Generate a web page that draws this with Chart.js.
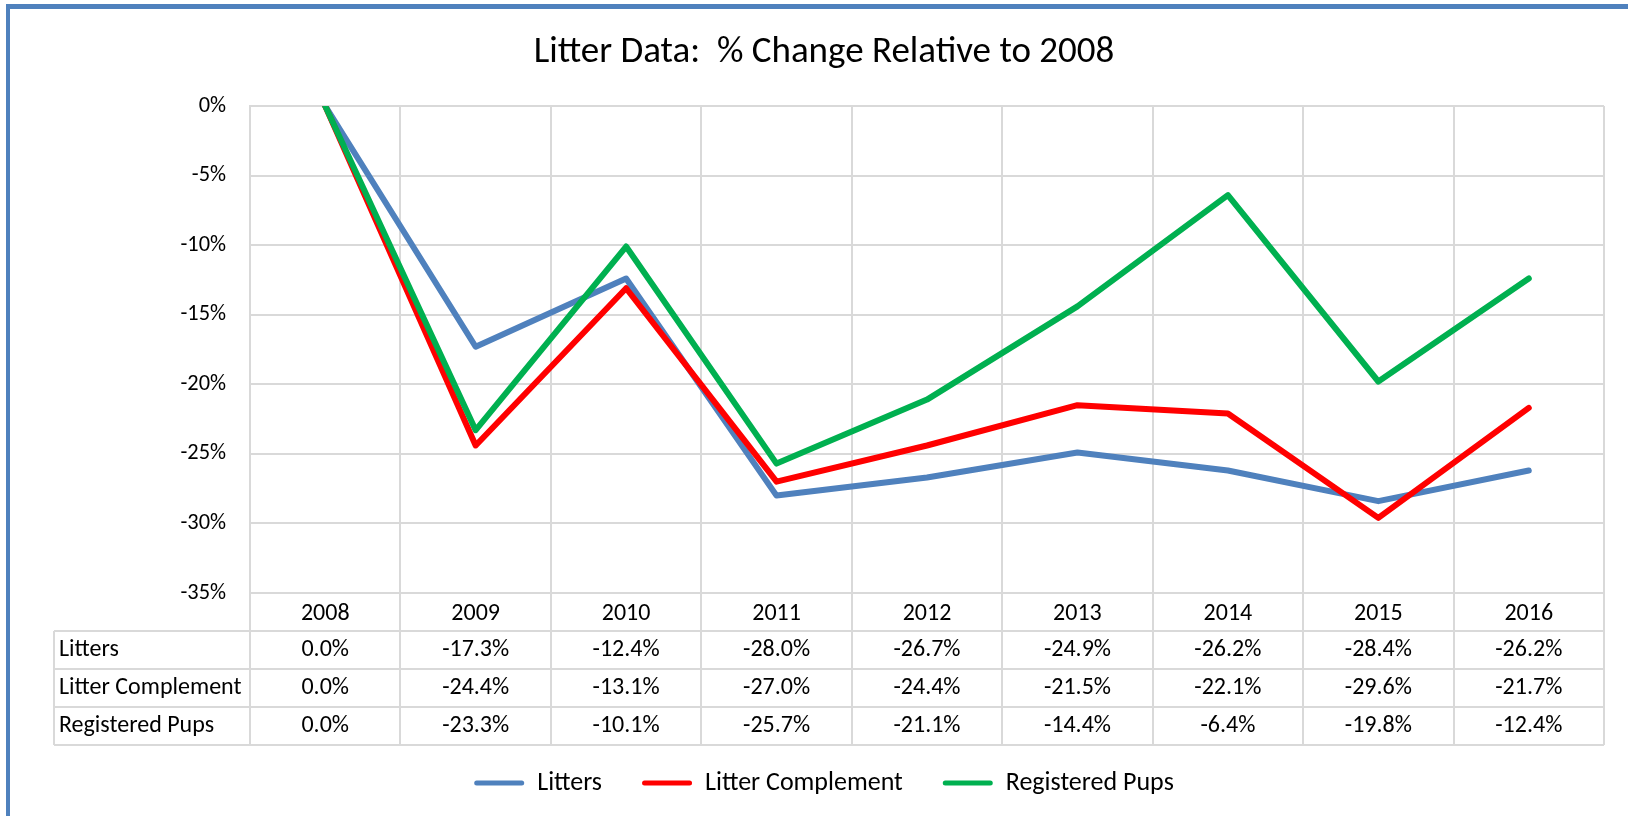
<!DOCTYPE html>
<html>
<head>
<meta charset="utf-8">
<title>Litter Data: % Change Relative to 2008</title>
<script src="https://cdn.jsdelivr.net/npm/chart.js@4.4.1/dist/chart.umd.min.js"></script>
<style>
  html, body { margin: 0; padding: 0; background: #fff; }
  #wrap { position: relative; width: 1628px; height: 816px; overflow: hidden; }
  #frame {
    position: absolute; left: 6px; top: 4px; right: -20px; bottom: -20px;
    border-top: 5px solid #4f81bd; border-left: 4px solid #4f81bd;
    pointer-events: none;
  }
  canvas { position: absolute; left: 0; top: 0; }
</style>
</head>
<body>
<div id="wrap">
  <canvas id="litter-chart" width="1628" height="816"></canvas>
  <div id="frame"></div>
</div>
<script>
// Chart data (% change relative to 2008)
const years = ['2008', '2009', '2010', '2011', '2012', '2013', '2014', '2015', '2016'];
const seriesNames = ['Litters', 'Litter Complement', 'Registered Pups'];
const litters = [0.0, -17.3, -12.4, -28.0, -26.7, -24.9, -26.2, -28.4, -26.2];
const litterComplement = [0.0, -24.4, -13.1, -27.0, -24.4, -21.5, -22.1, -29.6, -21.7];
const registeredPups = [0.0, -23.3, -10.1, -25.7, -21.1, -14.4, -6.4, -19.8, -12.4];
const yTickValues = [0, -5, -10, -15, -20, -25, -30, -35];

const FONT = 'Calibri, Carlito, Lato, sans-serif';
const GRID = '#d9d9d9';
const COLORS = ['#4f81bd', '#ff0000', '#00b050'];
const ROW_H = 38;
const TABLE_FONT = 24;

const tableRows = [
    { label: seriesNames[0], values: litters },
    { label: seriesNames[1], values: litterComplement },
    { label: seriesNames[2], values: registeredPups }
];

// Data table under the x axis (Excel style)
const dataTable = {
    id: 'dataTable',
    afterDraw(chart) {
        const { ctx, chartArea, scales: { x } } = chart;
        const colW = (chartArea.right - chartArea.left) / years.length;
        const top = chartArea.bottom;
        const bottom = top + ROW_H * (tableRows.length + 1);
        const labelLeft = 54;

        ctx.save();
        ctx.strokeStyle = GRID;
        ctx.lineWidth = 2;
        ctx.beginPath();
        for (let i = 0; i <= years.length; i++) {
            const px = Math.round(chartArea.left + i * colW);
            ctx.moveTo(px, top);
            ctx.lineTo(px, bottom);
        }
        for (let r = 1; r <= tableRows.length + 1; r++) {
            const py = Math.round(top + r * ROW_H);
            ctx.moveTo(labelLeft, py);
            ctx.lineTo(chartArea.right, py);
        }
        ctx.moveTo(labelLeft, Math.round(top + ROW_H));
        ctx.lineTo(labelLeft, bottom);
        ctx.stroke();

        ctx.fillStyle = '#000';
        ctx.font = `${TABLE_FONT}px ${FONT}`;
        ctx.textBaseline = 'middle';
        tableRows.forEach((row, r) => {
            const cy = top + ROW_H * (r + 1) + ROW_H / 2;
            ctx.textAlign = 'left';
            ctx.fillText(row.label, labelLeft + 5, cy);
            ctx.textAlign = 'center';
            row.values.forEach((v, i) => {
                ctx.fillText(v.toFixed(1) + '%', x.getPixelForValue(i), cy);
            });
        });
        ctx.restore();
    }
};

const datasets = [litters, litterComplement, registeredPups].map((vals, i) => ({
    label: seriesNames[i],
    data: vals,
    borderColor: COLORS[i],
    backgroundColor: COLORS[i],
    borderWidth: 6,
    pointRadius: 0,
    tension: 0,
    borderCapStyle: 'round',
    borderJoinStyle: 'round',
    order: 2 - i // later series drawn on top, like Excel
}));

new Chart(document.getElementById('litter-chart'), {
    type: 'line',
    data: { labels: years, datasets },
    plugins: [dataTable],
    options: {
        responsive: false,
        animation: false,
        layout: { padding: { left: 44, right: 24, top: 0, bottom: 10 } },
        plugins: {
            title: {
                display: true,
                text: 'Litter Data:  % Change Relative to 2008',
                color: '#000',
                font: { family: FONT, size: 37, weight: 'normal' },
                padding: { top: 31, bottom: 30.6 }
            },
            legend: {
                position: 'bottom',
                labels: {
                    color: '#000',
                    font: { family: FONT, size: 26 },
                    boxWidth: 50,
                    boxHeight: 5,
                    padding: 40,
                    useBorderRadius: true,
                    borderRadius: 2.5,
                    generateLabels: (chart) => Chart.defaults.plugins.legend.labels.generateLabels(chart)
                        .map(l => ({ ...l, lineWidth: 0, strokeStyle: 'rgba(0,0,0,0)' })),
                    sort: (a, b) => a.datasetIndex - b.datasetIndex
                }
            },
            tooltip: { enabled: false }
        },
        scales: {
            x: {
                offset: true,
                grid: { color: GRID, lineWidth: 2, offset: true, drawTicks: false },
                border: { color: GRID, width: 2 },
                ticks: { color: '#000', font: { family: FONT, size: TABLE_FONT }, padding: 7, maxRotation: 0 },
                afterFit: (s) => { s.height = 137; }
            },
            y: {
                min: -35,
                max: 0,
                grid: { color: GRID, lineWidth: 2, drawTicks: false },
                border: { color: GRID, width: 2 },
                ticks: { color: '#000', font: { family: FONT, size: 22.4 }, padding: 24, callback: (v) => v + '%' },
                afterBuildTicks: (s) => { s.ticks = yTickValues.map(v => ({ value: v })); },
                afterFit: (s) => { s.width = 206; }
            }
        }
    }
});
</script>
</body>
</html>
